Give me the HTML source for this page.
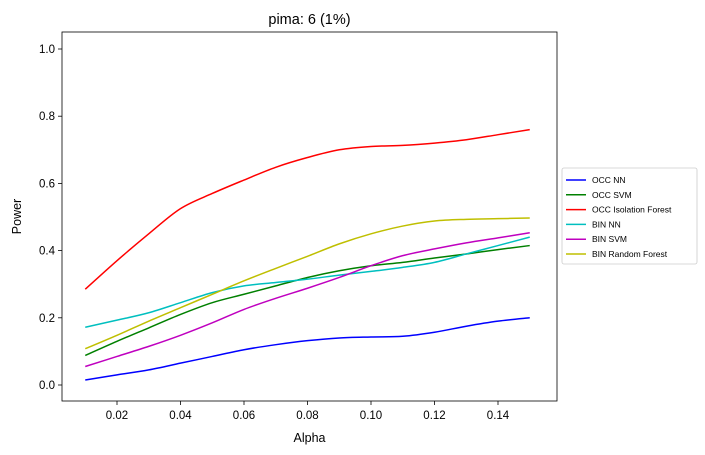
<!DOCTYPE html>
<html><head><meta charset="utf-8"><style>
html,body{margin:0;padding:0;background:#fff;}
svg{display:block;font-family:"Liberation Sans","DejaVu Sans",sans-serif;}
</style></head><body>
<svg id="chart" width="705" height="455" viewBox="0 0 705 455"></svg>
<script>
const alphas=[0.01,0.02,0.03,0.04,0.05,0.06,0.07,0.08,0.09,0.10,0.11,0.12,0.13,0.14,0.15];
const seriesNames=["OCC NN","OCC SVM","OCC Isolation Forest","BIN NN","BIN SVM","BIN Random Forest"];
const occNN=[0.015,0.03,0.045,0.065,0.085,0.105,0.12,0.132,0.14,0.143,0.145,0.157,0.175,0.19,0.2];
const occSVM=[0.088,0.13,0.17,0.21,0.245,0.27,0.295,0.32,0.34,0.355,0.365,0.378,0.39,0.403,0.415];
const occIF=[0.285,0.37,0.45,0.525,0.57,0.61,0.648,0.677,0.70,0.71,0.713,0.72,0.73,0.745,0.76];
const binNN=[0.172,0.193,0.215,0.245,0.275,0.295,0.305,0.315,0.327,0.338,0.35,0.365,0.39,0.415,0.44];
const binSVM=[0.055,0.085,0.115,0.148,0.185,0.225,0.258,0.288,0.32,0.355,0.385,0.405,0.423,0.438,0.453];
const binRF=[0.108,0.148,0.19,0.23,0.27,0.31,0.347,0.383,0.42,0.45,0.473,0.488,0.493,0.495,0.497];
const xTicks=[0.02,0.04,0.06,0.08,0.10,0.12,0.14];
const yTicks=[0.0,0.2,0.4,0.6,0.8,1.0];
const colors=["#0000ff","#008000","#ff0000","#00bfbf","#bf00bf","#bfbf00"];
const allSeries=[occNN,occSVM,occIF,binNN,binSVM,binRF];

const NS="http://www.w3.org/2000/svg";
const svg=document.getElementById('chart');
const L=62,R=557,T=32,B=401;
function xs(v){return 117+(v-0.02)/0.02*63.5;}
function ys(v){return 385-v*336;}
function mk(tag,attrs,parent){const e=document.createElementNS(NS,tag);for(const k in attrs)e.setAttribute(k,attrs[k]);(parent||svg).appendChild(e);return e;}

const title=mk('text',{x:(L+R)/2,y:24,'text-anchor':'middle','font-size':14.5,fill:'#000'});
title.textContent="pima: 6 (1%)";



xTicks.forEach(t=>{
  const x=xs(t);
  const ln=mk('line',{x1:x,x2:x,y1:B,y2:B+4,stroke:'#000','stroke-width':0.8});
  
  
  const tx=mk('text',{x:x,y:B+18,'text-anchor':'middle','font-size':11.5});
  tx.textContent=t.toFixed(2);
  
  
});
yTicks.forEach(t=>{
  const y=ys(t);
  const ln=mk('line',{x1:L-4,x2:L,y1:y,y2:y,stroke:'#000','stroke-width':0.8});
  
  
  const tx=mk('text',{x:L-7,y:y+4,'text-anchor':'end','font-size':11.5});
  tx.textContent=t.toFixed(1);
  
  
});
const xt=mk('text',{x:(L+R)/2,y:442,'text-anchor':'middle','font-size':12.5});
xt.textContent="Alpha";


const yt=mk('text',{x:21,y:(T+B)/2,'text-anchor':'middle','font-size':12.5,transform:`rotate(-90 21 ${(T+B)/2})`});
yt.textContent="Power";



function smoothPath(xv,yv){
  const p=xv.map((x,i)=>[xs(x),ys(yv[i])]);
  let d=`M${p[0][0]},${p[0][1]}`;
  for(let i=0;i<p.length-1;i++){
    const p0=p[Math.max(0,i-1)],p1=p[i],p2=p[i+1],p3=p[Math.min(p.length-1,i+2)];
    const c1=[p1[0]+(p2[0]-p0[0])/6,p1[1]+(p2[1]-p0[1])/6];
    const c2=[p2[0]-(p3[0]-p1[0])/6,p2[1]-(p3[1]-p1[1])/6];
    d+=` C${c1[0]},${c1[1]} ${c2[0]},${c2[1]} ${p2[0]},${p2[1]}`;
  }
  return d;
}
allSeries.forEach((s,i)=>{
  const path=mk('path',{d:smoothPath(alphas,s),fill:'none',stroke:colors[i],'stroke-width':1.5});
  
  
});
const frame=mk('rect',{x:L,y:T,width:R-L,height:B-T,fill:'none',stroke:'#000','stroke-width':0.8});



const lg=mk('g',{});


mk('rect',{x:562,y:168,width:135,height:96,rx:2,fill:'#fff',stroke:'#ccc','stroke-width':0.8},lg);
seriesNames.forEach((n,i)=>{
  const y=180+i*14.8;
  const g=mk('g',{},lg);
  
  
  mk('line',{x1:566,x2:586,y1:y,y2:y,stroke:colors[i],'stroke-width':1.5},g);
  const t=mk('text',{x:592,y:y+3,'font-size':8.5},g);
  t.textContent=n;
});
</script>
</body></html>
